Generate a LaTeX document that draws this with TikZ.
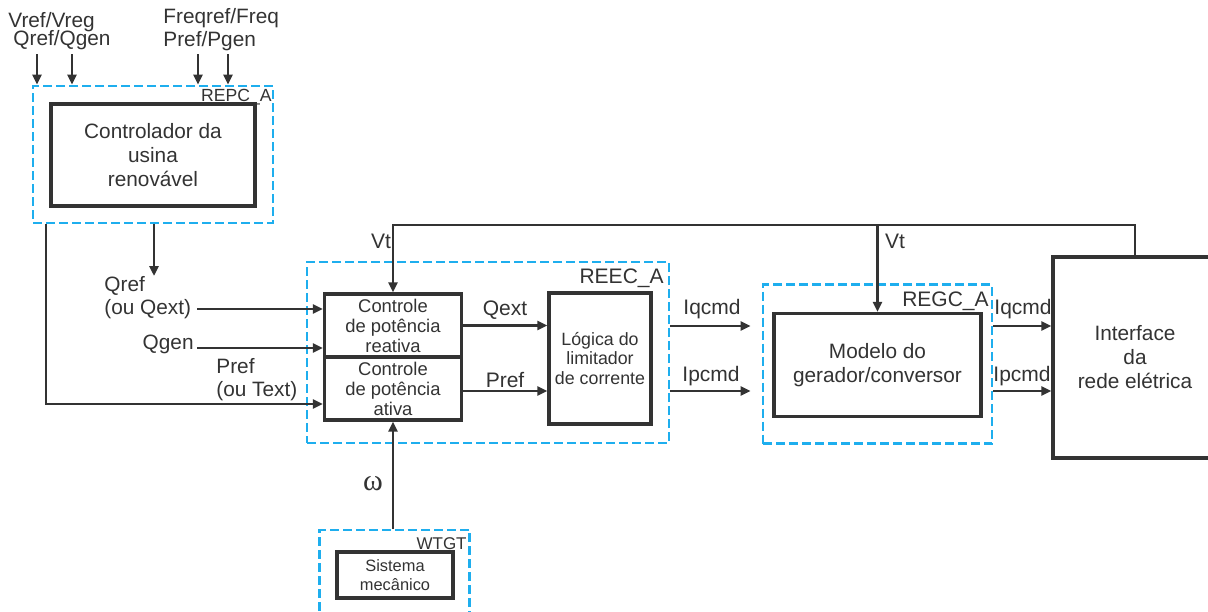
\documentclass[tikz,border=0pt]{standalone}
\usepackage{fontspec}
\setmainfont{Liberation Sans}
\newfontfamily\greekserif{Liberation Serif}
\usepackage{xcolor}
\definecolor{colorline}{HTML}{333333}
\definecolor{colordash}{HTML}{1EAEEE}
\usepackage{tikz}
\usetikzlibrary{positioning,arrows.meta}

\begin{document}
\begin{tikzpicture}[x=0.5pt,y=-0.5pt,
    block/.style={draw=colorline,line width=1.7pt,fill=white,align=center,inner sep=0pt,text=colorline,font=\fontsize{10.4}{12}\selectfont},
    group/.style={draw=colordash,line width=1.4pt,dash pattern=on 4.5pt off 2pt,inner sep=0pt},
    arr/.style={draw=colorline,line width=1.35pt,-{Triangle[length=5pt,width=4.5pt]}},
    lbl/.style={inner sep=0pt,text=colorline,align=left,font=\fontsize{10.4}{11.5}\selectfont},
    tag/.style={inner sep=0pt,text=colorline,font=\fontsize{10.5}{12}\selectfont}]
    \useasboundingbox (0,0) rectangle (1208,611);
    \clip (0,0) rectangle (1208,611);
    % Dashed groups (drawn first, blocks sit on top)
    \node[group,minimum width=120pt,minimum height=68.5pt] (repc) at (153,154.5) {};
    \node[group,minimum width=181pt,minimum height=90.5pt] (reec) at (488,352.5) {};
    \node[group,minimum width=114.5pt,minimum height=79.5pt] (regc) at (877.5,364) {};
    \node[group,minimum width=75pt,minimum height=48pt] (wtgt) at (394.5,578) {};
    \node[tag,anchor=base east,font=\fontsize{8.8}{10}\selectfont] (repclbl) at (272,101) {REPC\_A};
    \node[tag,anchor=base east] (reeclbl) at (664,283) {REEC\_A};
    \node[tag,anchor=base east] (regclbl) at (989,306) {REGC\_A};
    \node[tag,anchor=base east,font=\fontsize{8.5}{10}\selectfont] (wtgtlbl) at (467,549) {WTGT};
    % Blocks
    \node[block,minimum width=102pt,minimum height=51pt] (ctrl) at (153,155) {Controlador da\\usina\\renovável};
    \node[block,minimum width=68.5pt,minimum height=31.5pt,font=\fontsize{9.2}{10}\selectfont] (reac) at (393,325.5) {Controle\\de potência\\reativa};
    \node[block,minimum width=68.5pt,minimum height=31.5pt,font=\fontsize{9.2}{10}\selectfont,below=-1.7pt of reac] (ativ) {Controle\\de potência\\ativa};
    \node[block,minimum width=51pt,minimum height=65.5pt,font=\fontsize{8.9}{9.6}\selectfont] (lim) at (600,358.5) {Lógica do\\limitador\\de corrente};
    \node[block,minimum width=103.5pt,minimum height=51.5pt] (modelo) at (877.5,365) {Modelo do\\gerador/conversor};
    \node[block,minimum width=82pt,minimum height=100.5pt] (ifc) at (1135,357.5) {Interface\\da\\rede elétrica};
    \node[block,minimum width=58pt,minimum height=23pt,font=\fontsize{8.2}{9.5}\selectfont] (mec) at (395,575) {Sistema\\mecânico};
    % Inputs of the plant controller
    \node[lbl,anchor=base west] (vreflbl) at (8,27) {Vref/Vreg};
    \node[lbl,anchor=base west] (qreflbl) at (13,45) {Qref/Qgen};
    \node[lbl,anchor=base west] (freqlbl) at (163,23) {Freqref/Freq};
    \node[lbl,anchor=base west] (preflbl) at (163,46) {Pref/Pgen};
    \coordinate (vin) at (37,54);
    \coordinate (qin) at (72,54);
    \coordinate (fin) at (198,54);
    \coordinate (pin) at (228,54);
    \foreach \p in {vin,qin,fin,pin}
        \draw[arr] (\p) -- (\p |- repc.north);
    % Signals into the electrical controller
    \coordinate (qrefend) at (154,276);
    \draw[arr] (qrefend |- repc.south) -- (qrefend);
    \node[lbl,anchor=west] (qrefin) at (104,298) {Qref\\(ou Qext)};
    \node[lbl,anchor=base east] (qgenin) at (194,349) {Qgen};
    \node[lbl,anchor=west] (prefin) at (216,380) {Pref\\(ou Text)};
    \coordinate (qrefst) at (197,309);
    \coordinate (qgenst) at (197,348);
    \coordinate (pbus) at (46,404);
    \draw[arr] (qrefst) -- (qrefst -| reac.west);
    \draw[arr] (qgenst) -- (qgenst -| reac.west);
    \draw[arr] (pbus |- repc.south) -- (pbus) -- (pbus -| ativ.west);
    % Inside REEC_A
    \draw[arr] (reac.east) -- (reac.east -| lim.west);
    \coordinate (prow) at (0,391);
    \draw[arr] (prow -| ativ.east) -- (prow -| lim.west);
    \node[tag,anchor=base] (qextlbl) at (505,315) {Qext};
    \node[tag,anchor=base] (preflbl2) at (505,387) {Pref};
    % Current commands
    \coordinate (iqrow) at (0,326);
    \coordinate (iprow) at (0,391);
    \draw[arr,shorten >=5.5pt] (iqrow -| reec.east) -- (iqrow -| regc.west);
    \draw[arr,shorten >=5.5pt] (iprow -| reec.east) -- (iprow -| regc.west);
    \draw[arr] (iqrow -| regc.east) -- (iqrow -| ifc.west);
    \draw[arr] (iprow -| regc.east) -- (iprow -| ifc.west);
    \node[tag,anchor=base] (iqlbl) at (712,314) {Iqcmd};
    \node[tag,anchor=base] (iplbl) at (711,381) {Ipcmd};
    \node[tag,anchor=base] (iqlbl2) at (1023,314) {Iqcmd};
    \node[tag,anchor=base] (iplbl2) at (1022,381) {Ipcmd};
    % Terminal voltage feedback
    \coordinate (vbus) at (1135,225);
    \draw[arr] (ifc.north) -- (vbus) -| (reac.north);
    \draw[arr] (vbus -| modelo.north) -- (modelo.north);
    \node[tag,anchor=base] (vtlbl) at (381,248) {Vt};
    \node[tag,anchor=base] (vtlbl2) at (895,248) {Vt};
    % Rotor speed
    \draw[arr] (wtgt.north -| ativ.south) -- (ativ.south);
    \node[inner sep=0pt,text=colorline,font=\greekserif\fontsize{15}{18}\selectfont] (omegalbl) at (373,484) {ω};
\end{tikzpicture}
\end{document}
